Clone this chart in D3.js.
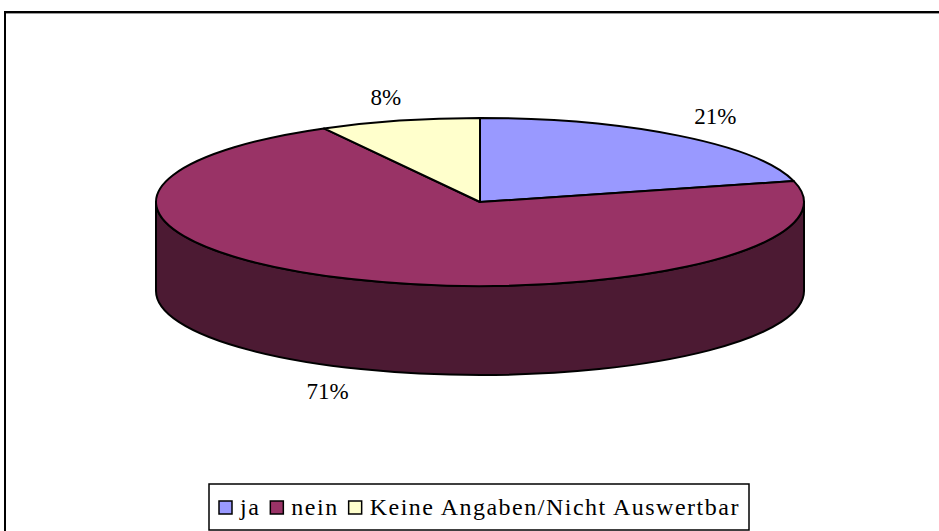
<!DOCTYPE html>
<html>
<head>
<meta charset="utf-8">
<script src="https://cdn.jsdelivr.net/npm/d3@7"></script>
<style>
  html, body { margin: 0; padding: 0; background: #fff; overflow: hidden; }
  svg { display: block; }
  text { font-family: "Liberation Serif", "Times New Roman", serif; fill: #000; }
</style>
</head>
<body>
<svg id="chart" width="939" height="531"></svg>
<script>
const categories = ["ja", "nein", "Keine Angaben/Nicht Auswertbar"];
const values = [21, 71, 8];
const valueLabels = ["21%", "71%", "8%"];
const topColors = ["#9999FF", "#993366", "#FFFFCC"];
const sideColors = ["#4C4C80", "#4C1A33", "#808066"];

const svg = d3.select("#chart");
const W = 939, H = 531;

svg.append("rect").attr("x", 0).attr("y", 0).attr("width", W).attr("height", H).attr("fill", "#fff");

// outer frame (cropped at right / bottom)
svg.append("line").attr("x1", 4).attr("x2", W + 5).attr("y1", 12).attr("y2", 12)
  .attr("stroke", "#000").attr("stroke-width", 2);
svg.append("line").attr("x1", 5).attr("x2", 5).attr("y1", 11).attr("y2", H + 5)
  .attr("stroke", "#000").attr("stroke-width", 2);
svg.append("line").attr("x1", 6).attr("x2", W + 5).attr("y1", 13.5).attr("y2", 13.5)
  .attr("stroke", "#999").attr("stroke-width", 1);

const cx = 480, cy = 202, rx = 324, ry = 84, depth = 89;
const lrx = 363, lry = 100;

const color = d3.scaleOrdinal().domain(categories).range(topColors);
const sideColor = d3.scaleOrdinal().domain(categories).range(sideColors);

const pie = d3.pie().sort(null).value(d => d.v);
const arcs = pie(categories.map((c, i) => ({ c, v: values[i], label: valueLabels[i] })));

const P = (a, z = 0) => [cx + rx * Math.sin(a), cy - ry * Math.cos(a) + z];
const g = svg.append("g");

// sides (front half visible: angles pi/2 .. 3pi/2)
arcs.forEach(d => {
  const s = Math.max(d.startAngle, Math.PI / 2);
  const e = Math.min(d.endAngle, 3 * Math.PI / 2);
  if (e <= s) return;
  const p0 = P(s), p1 = P(e), p2 = P(e, depth), p3 = P(s, depth);
  const path = `M${p0}A${rx},${ry} 0 0 1 ${p1}L${p2}A${rx},${ry} 0 0 0 ${p3}Z`;
  g.append("path").attr("d", path).attr("fill", sideColor(d.data.c))
    .attr("stroke", "#000").attr("stroke-width", 2).attr("stroke-linejoin", "round");
});

// top faces
arcs.forEach(d => {
  const p0 = P(d.startAngle), p1 = P(d.endAngle);
  const large = (d.endAngle - d.startAngle) > Math.PI ? 1 : 0;
  const path = `M${cx},${cy}L${p0}A${rx},${ry} 0 ${large} 1 ${p1}Z`;
  g.append("path").attr("d", path).attr("fill", color(d.data.c))
    .attr("stroke", "#000").attr("stroke-width", 2).attr("stroke-linejoin", "round");
});

// value labels (box placed outside the ellipse)
arcs.forEach(d => {
  const a = (d.startAngle + d.endAngle) / 2;
  const t = svg.append("text").attr("text-anchor", "middle").attr("dy", "0.35em")
    .attr("font-size", 23).text(d.data.label);
  const w = t.node().getComputedTextLength(), h = 17;
  let x = cx + lrx * Math.sin(a) + Math.sin(a) * w / 2;
  let y = cy - lry * Math.cos(a) - Math.cos(a) * h / 2;
  if (Math.cos(a) < 0) y += depth;
  t.attr("x", x).attr("y", y);
});

// legend
const legend = svg.append("g");
legend.append("rect").attr("x", 209).attr("y", 484).attr("width", 540).attr("height", 46)
  .attr("fill", "#fff").attr("stroke", "#000").attr("stroke-width", 1.5);
let lx = 219;
categories.forEach((c, i) => {
  legend.append("rect").attr("x", lx).attr("y", 501).attr("width", 13).attr("height", 13)
    .attr("fill", color(c)).attr("stroke", "#000").attr("stroke-width", 1.5);
  const t = legend.append("text").attr("x", lx + 21).attr("y", 515)
    .attr("font-size", 24).attr("letter-spacing", "1.5px").text(c);
  lx += 21 + t.node().getComputedTextLength() + 10;
});
</script>
</body>
</html>
